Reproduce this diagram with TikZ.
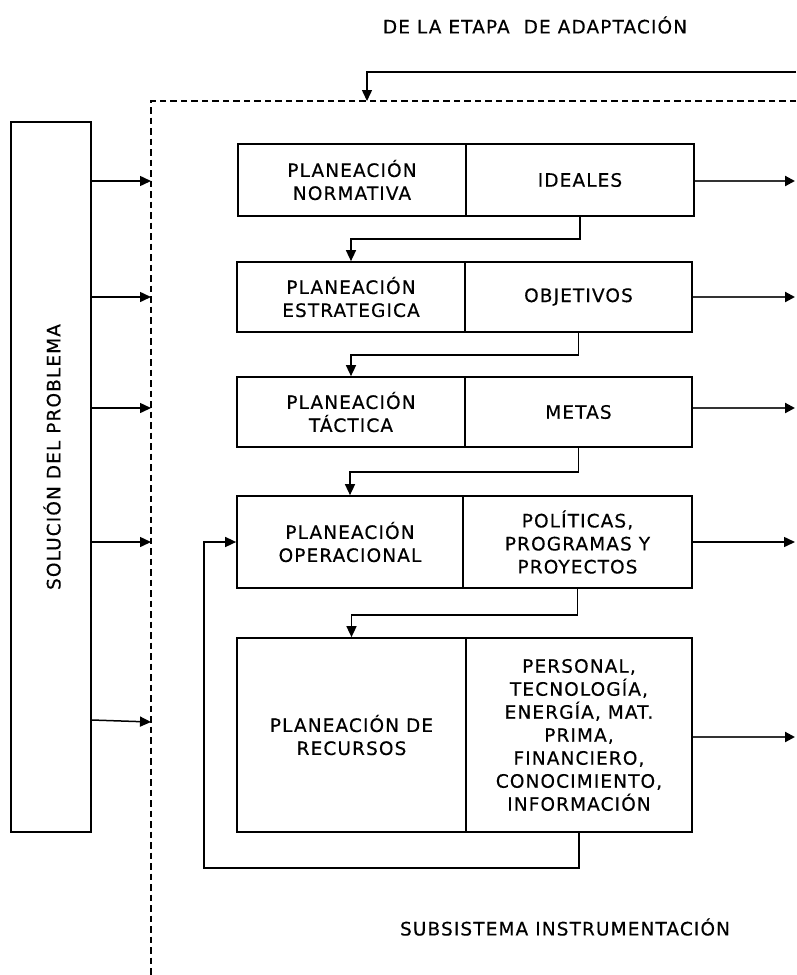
\documentclass[tikz,border=0pt]{standalone}
\usepackage{fontspec}
\setmainfont[LetterSpace=6,FakeBold=0.4]{DejaVu Sans}
\usetikzlibrary{arrows.meta,calc}
\begin{document}
\begin{tikzpicture}[x=1pt,y=-1pt,
  every node/.style={font=\fontsize{18.5}{23}\selectfont, align=center, inner sep=0pt},
  cell/.style={draw, line width=1.7pt},
  conn/.style={line width=1.5pt},
  arr/.style={conn, -{Triangle[length=11pt,width=10pt]}},
  outarr/.style={line width=2.2pt, draw=black!80, -{Triangle[length=10pt,width=10pt,color=black]}},
  frame/.style={line width=1.3pt, dash pattern=on 6.5pt off 4pt}]
\useasboundingbox (0,0) rectangle (796,975);

% texts
\node (title) at (535,25) {DE LA ETAPA\ \ DE ADAPTACIÓN};
\node (sub) at (565,927) {SUBSISTEMA INSTRUMENTACIÓN};

% dashed subsystem frame
\coordinate (fr1) at (796,101);
\coordinate (fr2) at (151,101);
\coordinate (fr3) at (151,975);
\draw[frame] (fr1) -- (fr2) -- (fr3);

% top feedback
\coordinate (fb) at (796,72);
\coordinate (fbin) at (367,101);
\draw[arr] (fb) -| (fbin);

% left box
\node[cell, minimum width=80pt, minimum height=710pt] (sol) at (51,477) {};
\node[rotate=90] (soltext) at (52,457) {SOLUCIÓN DEL PROBLEMA};

% rows
\node[cell, minimum width=228pt, minimum height=72pt] (n1l) at (352,180) {PLANEACIÓN\\NORMATIVA};
\node[cell, minimum width=228pt, minimum height=72pt] (n1r) at (580,180) {IDEALES};

\node[cell, minimum width=228pt, minimum height=70pt] (n2l) at (351,297) {PLANEACIÓN\\ESTRATEGICA};
\node[cell, minimum width=227pt, minimum height=70pt] (n2r) at (578.5,297) {OBJETIVOS};

\node[cell, minimum width=228pt, minimum height=70pt] (n3l) at (351,412) {PLANEACIÓN\\TÁCTICA};
\node[cell, minimum width=227pt, minimum height=70pt] (n3r) at (578.5,412) {METAS};

\node[cell, minimum width=226pt, minimum height=92pt] (n4l) at (350,542) {PLANEACIÓN\\OPERACIONAL};
\node[cell, minimum width=229pt, minimum height=92pt] (n4r) at (577.5,542) {POLÍTICAS,\\PROGRAMAS Y\\PROYECTOS};

\node[cell, minimum width=229pt, minimum height=194pt] (n5l) at (351.5,735) {PLANEACIÓN DE\\RECURSOS};
\node[cell, minimum width=226pt, minimum height=194pt] (n5r) at (579,735) {PERSONAL,\\TECNOLOGÍA,\\ENERGÍA, MAT.\\PRIMA,\\FINANCIERO,\\CONOCIMIENTO,\\INFORMACIÓN};

% outputs to the right
\coordinate (o1) at (795,181);
\coordinate (o2) at (795,297);
\coordinate (o3) at (795,408);
\coordinate (o4) at (795,542);
\coordinate (o5) at (795,737);
\draw[outarr] (n1r.east |- o1) -- (o1);
\draw[outarr] (n2r.east |- o2) -- (o2);
\draw[outarr] (n3r.east |- o3) -- (o3);
\draw[arr] (n4r.east |- o4) -- (o4);
\draw[outarr] (n5r.east |- o5) -- (o5);

% inputs from left box
\coordinate (d1) at (151,181);
\coordinate (d2) at (151,297);
\coordinate (d3) at (151,408);
\coordinate (d4) at (151,542);
\coordinate (d5) at (151,722);
\coordinate (s5) at (91,720);
\draw[arr] (sol.east |- d1) -- (d1);
\draw[arr] (sol.east |- d2) -- (d2);
\draw[arr] (sol.east |- d3) -- (d3);
\draw[arr] (sol.east |- d4) -- (d4);
\draw[arr] (sol.east |- s5) -- (d5);

% cascade
\draw[arr] (n1r.south) -- ++(0,22) -| (n2l.north);
\draw[arr] (n2r.south) -- ++(0,22) -| (n3l.north);
\draw[arr] (n3r.south) -- ++(0,24) -| (n4l.north);
\draw[arr] (n4r.south) -- ++(0,26) -| (n5l.north);

% feedback loop
\draw[arr] (n5r.south) -- ++(0,35) -| ($(n4l.west)+(-32,0)$) -- (n4l.west);
\end{tikzpicture}
\end{document}
